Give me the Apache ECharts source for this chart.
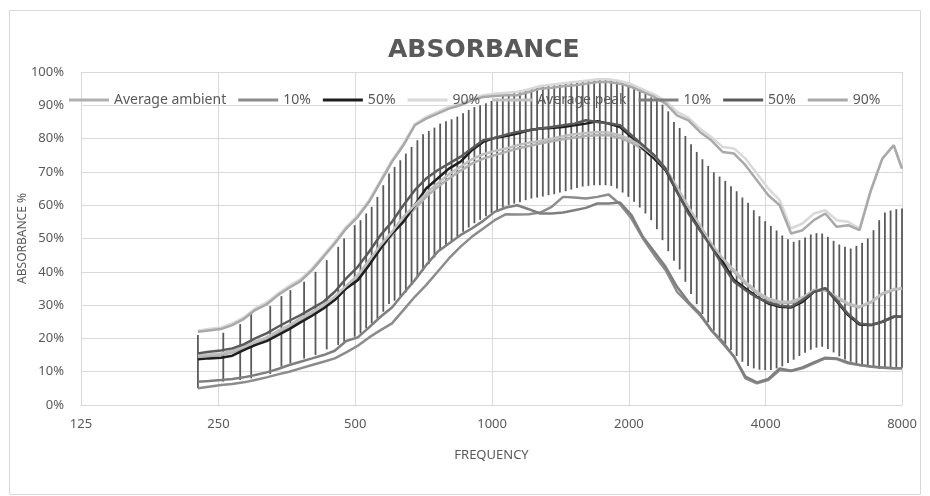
<!DOCTYPE html>
<html>
<head>
<meta charset="utf-8">
<title>Absorbance</title>
<script src="https://cdn.jsdelivr.net/npm/echarts@6/dist/echarts.min.js"></script>
<style>
  html, body { margin: 0; padding: 0; background: #fff; }
  #chart { width: 930px; height: 496px; }
</style>
</head>
<body>
<div id="chart"></div>
<script>
// frequencies (Hz) of the curves, 1/12 octave
const freqHz = [226, 239, 254, 269, 285, 302, 320, 339, 359, 380, 403, 427, 452, 479, 508, 538, 570, 604, 640, 678, 718, 761, 806, 854, 905, 959, 1016, 1076, 1140, 1208, 1280, 1356, 1437, 1522, 1613, 1709, 1810, 1918, 2032, 2153, 2281, 2416, 2560, 2712, 2874, 3044, 3225, 3417, 3620, 3836, 4064, 4305, 4561, 4833, 5120, 5424, 5747, 6089, 6451, 6834, 7241, 7671, 8000]

// x tick labels, one per octave
const tickLabels = ['125', '250', '500', '1000', '2000', '4000', '8000']

// absorbance in %
const avgAmbient = [14.5, 14.7, 15, 15.8, 17, 18.5, 19.8, 21.7, 23.4, 25.3, 27.3, 29.3, 31.8, 35, 38.2, 42.5, 47, 51, 55.5, 59, 62.5, 65.5, 68, 70.3, 72.5, 74, 75, 76, 77, 77.8, 78.5, 79.2, 79.8, 80.3, 80.8, 81, 81, 80.2, 78.8, 76.8, 74, 70.5, 65, 59, 53.5, 48, 43.5, 40, 36.5, 33.6, 31.6, 30.6, 30.6, 32, 34.3, 34.5, 32.3, 30.2, 29.3, 30.8, 33.3, 34.6, 35]
const p10Ambient = [5, 5.5, 6, 6.3, 6.8, 7.5, 8.3, 9.2, 10, 11, 12, 13, 14, 15.8, 17.8, 20.3, 22.5, 24.5, 28.5, 32.5, 36, 40, 44, 47.5, 50.5, 53, 55.5, 57.3, 57.2, 57.3, 57.8, 59.5, 62.5, 62.3, 62, 62.5, 63.2, 60.3, 56, 50, 45, 40.5, 34, 30.5, 27, 22.5, 18.5, 14.5, 8, 6.5, 7.5, 10.5, 10.2, 11, 12.5, 14, 13.8, 12.5, 12, 11.5, 11.2, 11, 11]
const p50Ambient = [13.7, 14, 14.2, 14.8, 16.5, 18, 19.2, 21, 22.8, 24.8, 26.8, 29, 31.5, 35, 37.5, 42, 47, 51.5, 55, 60, 65, 68, 71, 73, 76.5, 79, 80.2, 80.8, 81.5, 82.5, 83, 83.2, 83.5, 84, 84.5, 85.2, 84.5, 83.5, 80.5, 77, 74, 70.5, 64, 58, 53, 48, 43, 37.5, 35, 32.5, 30.5, 29.5, 29.3, 31, 34, 35, 31.2, 27, 24.2, 24, 25, 26.5, 26.5]
const p90Ambient = [22.3, 22.8, 23.3, 24.5, 26.3, 29, 30.8, 33.5, 35.8, 37.8, 41, 45, 49, 53.5, 57, 61.5, 67.5, 73.5, 78.5, 84.3, 86.5, 88, 89.5, 90.5, 92, 93, 93.5, 93.8, 94, 94.8, 95.8, 96.2, 96.6, 97, 97.4, 97.8, 97.8, 97.3, 96.3, 94.8, 93.3, 91.3, 88, 86.3, 83, 80.5, 77.5, 77, 74, 69.5, 65, 61.5, 53, 54.5, 57.5, 58.5, 55.5, 55, 53, 64.5, 74, 78, 71]
const avgPeak = [15, 15.2, 15.5, 16.3, 17.5, 19, 20.3, 22.3, 24, 26, 28, 30, 32.5, 35.8, 39, 43.5, 48, 52, 56.5, 60, 63.5, 66.5, 69.3, 71.5, 73.8, 75.3, 76.3, 77, 78, 78.8, 79.3, 80, 80.7, 81.3, 81.7, 82, 81.8, 81, 79.5, 77.5, 74.8, 71, 65.5, 59.5, 54, 48.5, 44, 40.5, 37, 34, 32, 31, 31, 32.3, 34.5, 34.5, 32.5, 30.5, 29.5, 31, 33.5, 34.8, 35]
const p10Peak = [7, 7.2, 7.5, 7.8, 8.3, 9, 9.8, 10.8, 12, 13, 14, 15, 16.3, 19.2, 20.3, 23.3, 26.5, 29.3, 33.5, 37.5, 42, 46, 48.5, 51, 53, 55.3, 58, 59.3, 60, 58.8, 57.5, 57.5, 57.8, 58.5, 59.2, 60.5, 60.5, 60.8, 57, 50.5, 46, 41.5, 35.5, 31, 27.5, 22.5, 19, 14.5, 8.5, 6.8, 7.8, 11, 10.3, 11.3, 12.8, 14.2, 14, 12.8, 12, 11.6, 11.3, 11, 11]
const p50Peak = [15.5, 16, 16.4, 17, 18.2, 20, 21.5, 23.5, 25.3, 27, 29, 31, 34, 38, 41.5, 46, 51, 55, 60, 64.5, 68, 70.5, 72.5, 74.5, 77, 79.5, 80.2, 81.2, 82, 82.5, 83, 83.5, 84, 84.5, 85.5, 85, 84.6, 84, 81, 78, 75, 71, 64, 57.5, 52.5, 47.5, 42, 37, 34.5, 32.3, 30.8, 29.8, 29.5, 31.5, 34, 35, 31.5, 27.3, 24.5, 24, 25, 26.5, 26.5]
const p90Peak = [22, 22.4, 22.8, 24, 25.8, 28.5, 30.2, 33, 35.2, 37.2, 40.5, 44.5, 48.5, 53, 56.5, 61, 67, 73, 78, 84, 86, 87.5, 89, 90, 91.5, 92.5, 92.8, 93, 93, 94, 95, 95.3, 95.7, 96, 96.5, 97, 97, 96.5, 95.5, 94, 92.5, 90.5, 87, 85.5, 82, 79.5, 76, 75.5, 72, 67.5, 63, 60, 51.5, 52.5, 55.5, 57.5, 53.5, 54, 52.5, 64.5, 74, 78, 71]

// error bars (spread of the peak data)
const barHz = [226, 257, 280, 296, 326, 345, 361, 387, 410, 434, 460, 474, 500, 515, 530, 545, 561, 578, 595, 612, 630, 648, 667, 687, 707, 728, 749, 771, 794, 817, 841, 866, 891, 917, 944, 972, 1000, 1029, 1059, 1091, 1122, 1155, 1189, 1224, 1260, 1297, 1335, 1374, 1414, 1456, 1498, 1542, 1587, 1634, 1682, 1731, 1782, 1834, 1888, 1943, 2000, 2059, 2119, 2181, 2245, 2311, 2378, 2448, 2520, 2594, 2670, 2748, 2828, 2911, 2997, 3084, 3175, 3268, 3364, 3462, 3564, 3668, 3776, 3886, 4000, 4117, 4238, 4362, 4490, 4621, 4757, 4896, 5040, 5187, 5339, 5496, 5657, 5823, 5993, 6169, 6350, 6536, 6727, 6924, 7127, 7336, 7551, 7772, 8000]
const barLow = [5, 7, 7.5, 8, 9.3, 11.5, 12.5, 14, 15, 16.7, 18, 19,
  20.5, 21.5, 23, 24.5, 26, 28, 30.3, 31.3, 32.5, 33.8,
  36, 38.3, 40.3, 42.3, 44.3, 46.3, 47.7, 49.2, 50.6, 52,
  53.3, 54.6, 55.6, 56.7, 57.7, 58.5, 59.3, 60, 60.5, 60.9,
  61.5, 62, 62.3, 62.6, 63, 63.3, 63.8, 64.2, 64.7, 65.2,
  65.6, 65.8, 66, 66, 66, 65.8, 65, 63.8, 62.5, 61,
  59.3, 57.5, 55.5, 52.8, 49.5, 46.2, 43.3, 40.7, 37, 33.3,
  30.3, 27.3, 24.8, 22.3, 20.3, 18.3, 16.5, 14.7, 13, 11.7,
  11, 10.6, 10.5, 10.5, 11, 11.6, 12.6, 13.6, 14.7, 15.7,
  16.6, 17.2, 17.5, 16.8, 15.8, 14.6, 13.7, 13, 12.4, 12,
  12, 11.5, 10.8, 10.8, 11, 11.3, 11.2]
const barHigh = [21, 21.7, 24.3, 27.5, 29.7, 32.7, 34.5, 37, 40, 43.5, 47.5, 50,
  54, 55.5, 57.5, 59.5, 62.5, 66, 69.5, 71.5, 73.5, 75.5,
  77.5, 79.5, 81.3, 82.3, 83.3, 84.5, 85.2, 85.8, 86.6, 87.6,
  88.6, 89.5, 90, 90.6, 91.3, 92, 92.8, 93.3, 93.8, 94.3,
  94.8, 95.2, 95.5, 95.7, 95.9, 96.1, 96.4, 96.6, 96.9, 97.1,
  97.3, 97.5, 97.7, 97.9, 98, 97.9, 97.3, 96.6, 95.8, 95,
  94.2, 93.4, 92.4, 91.3, 90.2, 88.2, 85, 83.2, 80.8, 78.3,
  76, 73.8, 71.8, 69.9, 68.6, 67.3, 65.7, 64.2, 62.3, 60.7,
  58.5, 56.7, 55.2, 53.8, 52.4, 50.9, 49.8, 49, 49.5, 50.3,
  51.2, 51.6, 51.5, 50.5, 49.3, 48.2, 47.5, 47, 47.8, 48.7,
  50, 52.5, 55.5, 57.8, 58.4, 58.8, 59]

const seriesNames = ['Average ambient', '10% ambient', '50% ambient', '90% ambient', 'Average peak', '10% peak', '50% peak', '90% peak']
const seriesColors = ['#b0b0b0', '#8c8c8c', '#1e1e1e', '#d9d9d9', '#bfbfbf', '#7f7f7f', '#5a5a5a', '#a9a9a9']
const seriesValues = [avgAmbient, p10Ambient, p50Ambient, p90Ambient, avgPeak, p10Peak, p50Peak, p90Peak]

const textColor = '#595959'
const gridColor = '#d9d9d9'
const fontFamily = '"Noto Sans", "Open Sans", sans-serif'

const chart = echarts.init(document.getElementById('chart'), null, { renderer: 'canvas' })

const lineSeries = (i) => ({
  name: seriesNames[i],
  type: 'line',
  data: freqHz.map((f, j) => [f, seriesValues[i][j]]),
  showSymbol: false,
  symbol: 'none',
  color: seriesColors[i],
  lineStyle: { color: seriesColors[i], width: 2.5 },
  silent: true
})

// error bars drawn as vertical segments
const errorSeries = {
  name: 'spread',
  type: 'custom',
  data: barHz.map((f, j) => [f, barLow[j], barHigh[j]]),
  encode: { x: 0, y: [1, 2] },
  silent: true,
  renderItem: (params, api) => {
    const lo = api.coord([api.value(0), api.value(1)])
    const hi = api.coord([api.value(0), api.value(2)])
    return {
      type: 'line',
      shape: { x1: lo[0], y1: lo[1], x2: hi[0], y2: hi[1] },
      style: { stroke: '#5a5a5a', lineWidth: 1.8 }
    }
  }
}

const option = {
  animation: false,
  backgroundColor: '#fff',
  textStyle: { fontFamily: fontFamily },
  title: {
    text: 'ABSORBANCE',
    left: 383,
    top: 33,
    textStyle: { fontFamily: '"DejaVu Sans", sans-serif', fontWeight: 'bold', fontSize: 25, color: textColor }
  },
  legend: {
    data: seriesNames,
    left: 64,
    top: 88,
    icon: 'rect',
    itemWidth: 40,
    itemHeight: 3,
    itemGap: 12,
    formatter: (name) => name.startsWith('Average') ? name : name.split(' ')[0],
    textStyle: { fontSize: 14, color: textColor, fontFamily: fontFamily }
  },
  grid: { left: 81, right: 28, top: 72, bottom: 91 },
  xAxis: {
    type: 'log',
    logBase: 2,
    min: 125,
    max: 8000,
    interval: 1,
    name: 'FREQUENCY',
    nameLocation: 'middle',
    nameGap: 44,
    nameMoveOverlap: false,
    nameTextStyle: { fontSize: 13, color: textColor },
    axisLine: { show: true, lineStyle: { color: gridColor } },
    axisTick: { show: false },
    axisLabel: {
      fontSize: 13,
      color: textColor,
      margin: 13,
      formatter: (v) => tickLabels[Math.round(Math.log2(v / 125))]
    },
    splitLine: { show: true, lineStyle: { color: gridColor, width: 1 } }
  },
  yAxis: {
    type: 'value',
    min: 0,
    max: 100,
    interval: 10,
    name: 'ABSORBANCE %',
    nameLocation: 'middle',
    nameGap: 52,
    nameMoveOverlap: false,
    nameTextStyle: { fontSize: 12, color: textColor },
    axisLine: { show: false },
    axisTick: { show: false },
    axisLabel: { fontSize: 13, color: textColor, margin: 17, formatter: '{value}%' },
    splitLine: { show: true, lineStyle: { color: gridColor, width: 1 } }
  },
  graphic: [{
    type: 'rect',
    shape: { x: 9.5, y: 10.5, width: 911, height: 484 },
    style: { fill: 'none', stroke: gridColor, lineWidth: 1 },
    silent: true,
    z: -1
  }],
  series: [
    lineSeries(0), lineSeries(1), lineSeries(2), lineSeries(3),
    errorSeries,
    lineSeries(4), lineSeries(5), lineSeries(6), lineSeries(7)
  ]
}

chart.setOption(option)
</script>
</body>
</html>
